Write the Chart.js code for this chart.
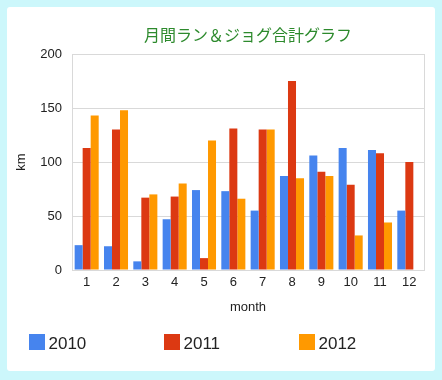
<!DOCTYPE html>
<html>
<head>
<meta charset="utf-8">
<script src="https://cdn.jsdelivr.net/npm/chart.js@4/dist/chart.umd.min.js"></script>
<style>
  html, body { margin: 0; padding: 0; background: #ccf7fb; width: 442px; height: 380px; overflow: hidden; }
  #card { position: absolute; left: 7px; top: 7px; width: 428px; height: 364px; background: #fff; border-radius: 3px; }
  canvas { display: block; }
</style>
</head>
<body>
<div id="card"><canvas id="c" width="428" height="364"></canvas></div>
<script>
const months = ['1','2','3','4','5','6','7','8','9','10','11','12'];
const seriesNames = ['2010','2011','2012'];
const km2010 = [23, 22, 8, 47, 74, 73, 55, 87, 106, 113, 111, 55];
const km2011 = [113, 130, 67, 68, 11, 131, 130, 175, 91, 79, 108, 100];
const km2012 = [143, 148, 70, 80, 120, 66, 130, 85, 87, 32, 44, null];
const yTicks = [0, 50, 100, 150, 200];
const chartTitle = '月間ラン＆ジョグ合計グラフ';
const xTitle = 'month';
const yTitle = 'km';

const colors = ['#4684ee', '#dc3912', '#ff9900'];
const gridColor = '#d9d9d9';

Chart.defaults.font.family = '"Liberation Sans", Arial, sans-serif';
Chart.defaults.color = '#222';

const legendPlugin = {
  id: 'sideLegend',
  afterDraw(chart) {
    const ctx = chart.ctx;
    const top = chart.height - 37;
    ctx.save();
    chart.data.datasets.forEach((ds, i) => {
      const x = 22 + i * 135;
      ctx.fillStyle = ds.backgroundColor;
      ctx.fillRect(x, top, 16, 16);
      ctx.fillStyle = '#222';
      ctx.font = '17px "Liberation Sans", Arial, sans-serif';
      ctx.textBaseline = 'middle';
      ctx.textAlign = 'left';
      ctx.fillText(ds.label, x + 19.5, top + 10);
    });
    ctx.restore();
  }
};

new Chart(document.getElementById('c'), {
  type: 'bar',
  data: {
    labels: months,
    datasets: [
      { label: seriesNames[0], data: km2010, backgroundColor: colors[0] },
      { label: seriesNames[1], data: km2011, backgroundColor: colors[1] },
      { label: seriesNames[2], data: km2012, backgroundColor: colors[2] }
    ]
  },
  options: {
    responsive: false,
    animation: false,
    devicePixelRatio: 1,
    categoryPercentage: 0.82,
    barPercentage: 1.0,
    layout: { padding: { top: 18.4, left: 0, right: 11, bottom: 56.2 } },
    plugins: {
      legend: { display: false },
      tooltip: { enabled: false },
      title: {
        display: true,
        text: chartTitle,
        fullSize: false,
        color: '#2d8a2d',
        font: { family: '"Noto Sans CJK JP", sans-serif', size: 16, weight: 'normal' },
        padding: { top: 0, bottom: 9.4 }
      }
    },
    scales: {
      x: {
        grid: {
          drawTicks: false,
          color: c => (c.index === 0 || c.index === undefined) ? gridColor : 'rgba(0,0,0,0)'
        },
        border: { color: gridColor },
        ticks: { padding: 5, font: { size: 13 }, color: '#222' },
        title: { display: true, text: xTitle, font: { size: 13 }, color: '#222', padding: { top: 0, bottom: 0 } },
        afterFit: s => { s.height = 44.8; }
      },
      y: {
        min: 0,
        max: 200,
        afterBuildTicks: s => { s.ticks = yTicks.map(v => ({ value: v })); },
        grid: { drawTicks: false, color: gridColor },
        border: { color: gridColor },
        ticks: { padding: 10, font: { size: 13 }, color: '#222' },
        title: { display: true, text: yTitle, font: { size: 13 }, color: '#222', padding: { top: 6.2, bottom: 0 } },
        afterFit: s => { s.width = 65; }
      }
    }
  },
  plugins: [legendPlugin]
});
</script>
</body>
</html>
